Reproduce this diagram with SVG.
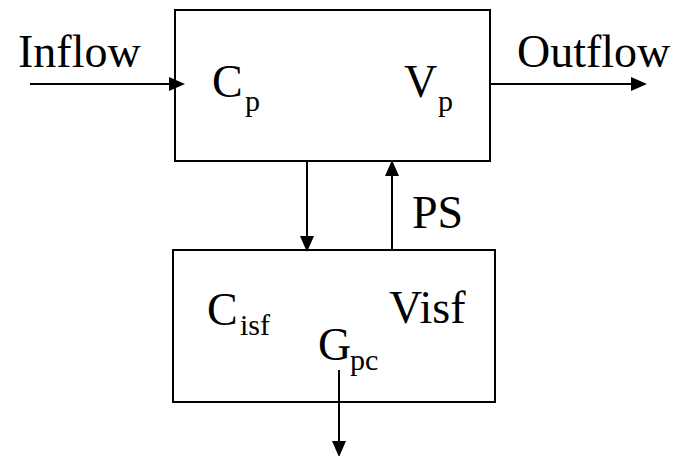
<svg xmlns="http://www.w3.org/2000/svg" width="679" height="456" viewBox="0 0 679 456">
<style>
.box{fill:#fff;stroke:#000;stroke-width:2}
.ln{stroke:#000;stroke-width:2;fill:none;marker-end:url(#ah)}
text{font-family:"Liberation Serif","Times New Roman",serif;fill:#000}
.t{font-size:46px}
.s{font-size:30px}
</style>
<defs>
<marker id="ah" markerWidth="8" markerHeight="7" refX="7" refY="3.5" orient="auto" markerUnits="strokeWidth">
<path d="M0,0 L8,3.5 L0,7 Z" fill="#000"/>
</marker>
</defs>
<g id="plasma">
<rect class="box" x="175" y="10" width="315" height="151"/>
<text class="t" x="212" y="97">C</text><text class="s" x="245" y="111">p</text>
<text class="t" x="404" y="97">V</text><text class="s" x="438" y="111">p</text>
</g>
<g id="isf">
<rect class="box" x="173" y="250" width="322" height="152"/>
<text class="t" x="207" y="325">C</text><text class="s" x="240" y="335">isf</text>
<text class="t" x="389" y="323">Visf</text>
<text class="t" x="318" y="360">G</text><text class="s" x="350" y="370">pc</text>
</g>
<g id="connectors">
<line class="ln" x1="30" y1="84" x2="183" y2="84"/>
<line class="ln" x1="490" y1="84" x2="645" y2="84"/>
<line class="ln" x1="307" y1="161" x2="307" y2="250"/>
<line class="ln" x1="392" y1="250" x2="392" y2="162"/>
<line class="ln" x1="339" y1="370" x2="339" y2="455"/>
</g>
<g id="labels">
<text class="t" x="18" y="67">Inflow</text>
<text class="t" x="517" y="67">Outflow</text>
<text class="t" x="412" y="228">PS</text>
</g>
</svg>
